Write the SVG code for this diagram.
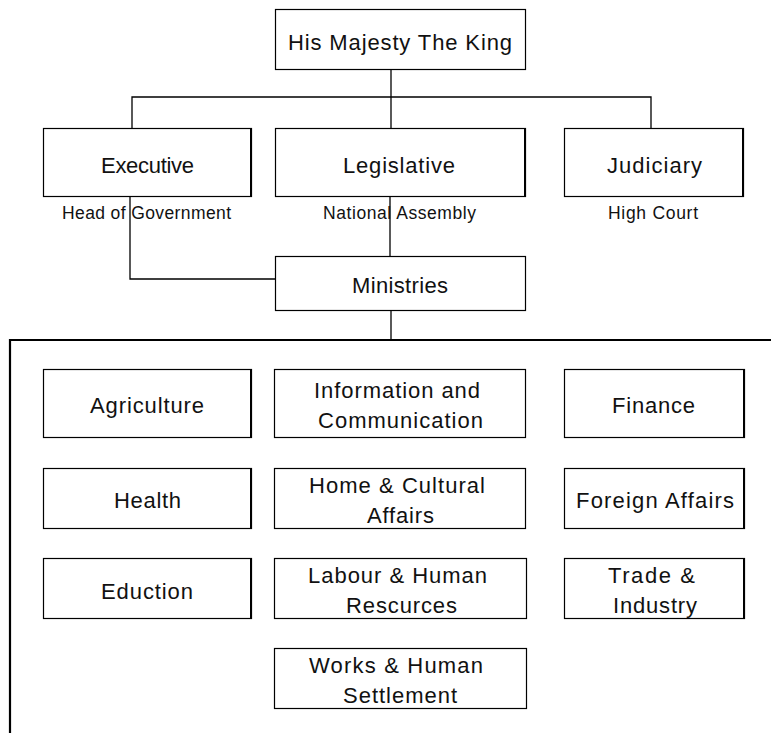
<svg xmlns="http://www.w3.org/2000/svg" width="771" height="733" viewBox="0 0 771 733">
<style>
.box{fill:#fff;stroke:#000;stroke-width:1.2}
.sh{stroke:#000;stroke-width:2;fill:none}
.ln{stroke:#000;stroke-width:1.3;fill:none}
.frame{stroke:#000;stroke-width:2.2;fill:none}
text{font-family:"Liberation Sans",Arial,sans-serif;fill:#111}
.t{font-size:22px}
.s{font-size:17.5px}
</style>
<rect width="771" height="733" fill="#fff"/>
<g id="connectors">
<polyline class="ln" points="391,69 391,128"/>
<polyline class="ln" points="132,128 132,97 651,97 651,128"/>
<polyline class="ln" points="130,196 130,279 275,279"/>
<polyline class="ln" points="390,196 390,256"/>
<polyline class="ln" points="391,310 391,340"/>
<polyline class="frame" points="10,733 10,340 771,340"/>
</g>
<g id="king"><rect class="box" x="275.5" y="9.5" width="250" height="60"/><text class="t" x="288" y="50" textLength="224">His Majesty The King</text></g>
<g id="executive"><rect class="box" x="43.5" y="128.5" width="208" height="68"/><line class="sh" x1="251" y1="128" x2="251" y2="197"/><text class="t" x="101" y="173" textLength="93">Executive</text><text class="s" x="62" y="219" textLength="169">Head of Government</text></g>
<g id="legislative"><rect class="box" x="275.5" y="128.5" width="250" height="68"/><line class="sh" x1="525" y1="128" x2="525" y2="197"/><text class="t" x="343" y="173" textLength="112">Legislative</text><text class="s" x="323" y="219" textLength="153">National Assembly</text></g>
<g id="judiciary"><rect class="box" x="564.5" y="128.5" width="179" height="68"/><line class="sh" x1="743" y1="128" x2="743" y2="197"/><text class="t" x="607" y="173" textLength="95">Judiciary</text><text class="s" x="608" y="219" textLength="90">High Court</text></g>
<g id="ministries"><rect class="box" x="275.5" y="256.5" width="250" height="54"/><text class="t" x="352" y="293" textLength="96">Ministries</text></g>
<g id="agriculture"><rect class="box" x="43.5" y="369.5" width="208" height="68"/><line class="sh" x1="251" y1="369" x2="251" y2="438"/><text class="t" x="90" y="413" textLength="114">Agriculture</text></g>
<g id="information"><rect class="box" x="274.5" y="369.5" width="251" height="68"/><text class="t" x="314" y="398" textLength="166">Information and</text><text class="t" x="318" y="428" textLength="165">Communication</text></g>
<g id="finance"><rect class="box" x="564.5" y="369.5" width="180" height="68"/><line class="sh" x1="744" y1="369" x2="744" y2="438"/><text class="t" x="612" y="413" textLength="83">Finance</text></g>
<g id="health"><rect class="box" x="43.5" y="468.5" width="208" height="60"/><line class="sh" x1="251" y1="468" x2="251" y2="529"/><text class="t" x="114" y="508" textLength="67">Health</text></g>
<g id="home"><rect class="box" x="274.5" y="468.5" width="251" height="60"/><text class="t" x="309" y="493" textLength="176">Home &amp; Cultural</text><text class="t" x="367" y="523" textLength="67">Affairs</text></g>
<g id="foreign"><rect class="box" x="564.5" y="468.5" width="180" height="60"/><line class="sh" x1="744" y1="468" x2="744" y2="529"/><text class="t" x="576" y="508" textLength="158">Foreign Affairs</text></g>
<g id="education"><rect class="box" x="43.5" y="558.5" width="208" height="60"/><line class="sh" x1="251" y1="558" x2="251" y2="619"/><text class="t" x="101" y="599" textLength="92">Eduction</text></g>
<g id="labour"><rect class="box" x="274.5" y="558.5" width="252" height="60"/><text class="t" x="308" y="583" textLength="179">Labour &amp; Human</text><text class="t" x="346" y="613" textLength="111">Rescurces</text></g>
<g id="trade"><rect class="box" x="564.5" y="558.5" width="180" height="60"/><line class="sh" x1="744" y1="558" x2="744" y2="619"/><text class="t" x="608" y="583" textLength="87">Trade &amp;</text><text class="t" x="613" y="613" textLength="84">Industry</text></g>
<g id="works"><rect class="box" x="274.5" y="648.5" width="252" height="60"/><text class="t" x="309" y="673" textLength="174">Works &amp; Human</text><text class="t" x="343" y="703" textLength="114">Settlement</text></g>
</svg>
